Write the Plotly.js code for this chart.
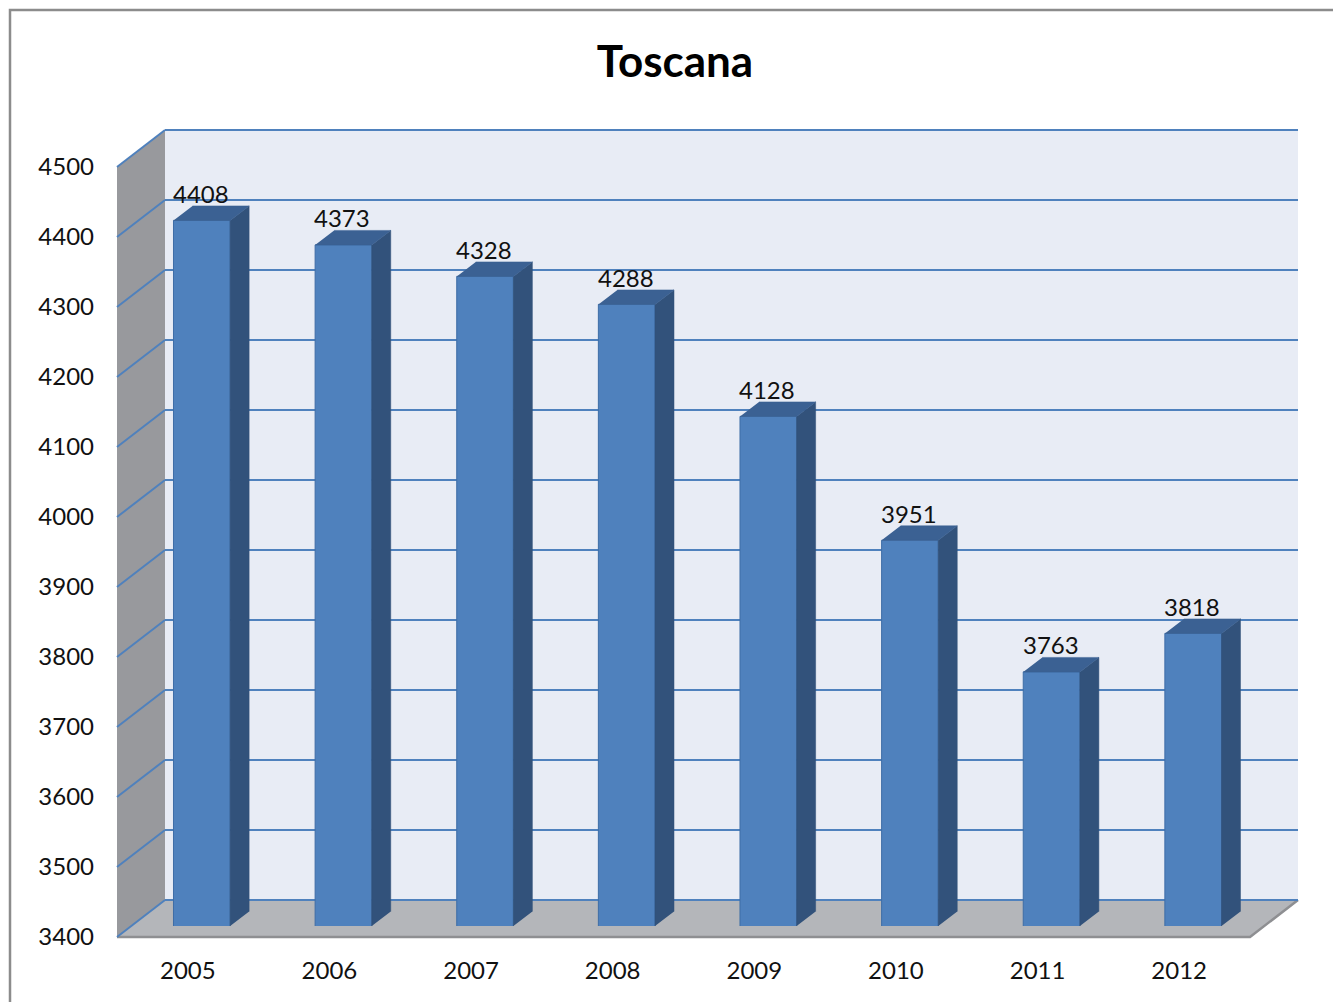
<!DOCTYPE html>
<html>
<head>
<meta charset="utf-8">
<script src="https://cdn.plot.ly/plotly-3.0.1.min.js"></script>
<style>
  html, body { margin: 0; padding: 0; background: #fff; }
  #chart { width: 1333px; height: 1002px; }
</style>
</head>
<body>
<div id="chart"></div>
<script>
// data
const years = ['2005', '2006', '2007', '2008', '2009', '2010', '2011', '2012'];
const values = [4408, 4373, 4328, 4288, 4128, 3951, 3763, 3818];
const yTicks = [3400, 3500, 3600, 3700, 3800, 3900, 4000, 4100, 4200, 4300, 4400, 4500];

const W = 1333, H = 1002;
const Y_MIN = 3400, Y_MAX = 4500;
const px = x => x / W;
const py = y => 1 - y / H;

// pixel planes of the fake 3D box: front edge, bar front faces, back wall
const FRONT = { x0: 117, x1: 1250, y0: 937, y1: 167 };
const BARS = { x0: 131, x1: 1264, y0: 926, y1: 156 };
const BACK = { x0: 165, x1: 1298, y0: 900, y1: 130 };
const yOn = (plane, v) => plane.y0 - (v - Y_MIN) / (Y_MAX - Y_MIN) * (plane.y0 - plane.y1);

const FONT = 'Lato, "Open Sans", sans-serif';
const BLUE = '#4F81BD';
const SIDE = '#32527B';
const TOP = '#3B6193';
const GRID = '#4F81BD';

// bar depth, turned into axis units of the bar plane
const barW = 0.4;
const slotPx = (BARS.x1 - BARS.x0) / years.length;
const depthX = 19 / slotPx;
const depthY = 14.5 / ((BARS.y0 - BARS.y1) / (Y_MAX - Y_MIN));
const idx = years.map((_, i) => i);

const sideX = [], sideY = [], topX = [], topY = [];
values.forEach((v, i) => {
  const r = i + barW / 2, l = i - barW / 2;
  sideX.push(r, r, r + depthX, r + depthX, null);
  sideY.push(Y_MIN, v, v + depthY, Y_MIN + depthY, null);
  topX.push(l, r, r + depthX, l + depthX, null);
  topY.push(v, v, v + depthY, v + depthY, null);
});

const traces = [
  // back wall subplot needs a trace so its grid is drawn
  { x: [0.5], y: [Y_MIN], xaxis: 'x', yaxis: 'y', type: 'scatter', mode: 'markers',
    marker: { opacity: 0 }, hoverinfo: 'skip', showlegend: false },
  { x: idx, y: values, xaxis: 'x2', yaxis: 'y2', type: 'bar', width: barW,
    marker: { color: BLUE, line: { color: '#3E6DA6', width: 1 } },
    hoverinfo: 'skip', showlegend: false },
  { x: sideX, y: sideY, xaxis: 'x2', yaxis: 'y2', type: 'scatter', mode: 'lines',
    fill: 'toself', fillcolor: SIDE, line: { color: SIDE, width: 0.5 },
    hoverinfo: 'skip', showlegend: false },
  { x: topX, y: topY, xaxis: 'x2', yaxis: 'y2', type: 'scatter', mode: 'lines',
    fill: 'toself', fillcolor: TOP, line: { color: TOP, width: 0.5 },
    hoverinfo: 'skip', showlegend: false },
  // front axis carries the tick labels
  { x: idx, y: values, xaxis: 'x3', yaxis: 'y3', type: 'scatter', mode: 'markers',
    marker: { opacity: 0 }, hoverinfo: 'skip', showlegend: false },
];

const shapes = [
  // back wall
  { type: 'rect', xref: 'paper', yref: 'paper', layer: 'below',
    x0: px(BACK.x0), x1: px(BACK.x1), y0: py(BACK.y0), y1: py(BACK.y1),
    fillcolor: '#E8ECF5', line: { width: 0 } },
  // left wall
  { type: 'path', xref: 'paper', yref: 'paper', layer: 'below',
    path: `M${px(FRONT.x0)},${py(FRONT.y1)} L${px(BACK.x0)},${py(BACK.y1)} L${px(BACK.x0)},${py(BACK.y0)} L${px(FRONT.x0)},${py(FRONT.y0)} Z`,
    fillcolor: '#98999D', line: { width: 0 } },
  // floor
  { type: 'path', xref: 'paper', yref: 'paper', layer: 'below',
    path: `M${px(FRONT.x0)},${py(FRONT.y0)} L${px(FRONT.x1)},${py(FRONT.y0)} L${px(BACK.x1)},${py(BACK.y0)} L${px(BACK.x0)},${py(BACK.y0)} Z`,
    fillcolor: '#B4B6BA', line: { width: 0 } },
  // floor front and right edges
  { type: 'path', xref: 'paper', yref: 'paper', layer: 'below',
    path: `M${px(FRONT.x0)},${py(FRONT.y0)} L${px(FRONT.x1)},${py(FRONT.y0)} L${px(BACK.x1)},${py(BACK.y0)}`,
    line: { color: '#8E8F92', width: 2.5 } },
  // outer chart border
  { type: 'rect', xref: 'paper', yref: 'paper', layer: 'above',
    x0: px(10), x1: px(1345), y0: py(10), y1: py(1015),
    line: { color: '#8C8C8C', width: 2.5 } },
];

// diagonal gridlines across the left wall
yTicks.forEach(v => {
  shapes.push({ type: 'line', xref: 'paper', yref: 'paper', layer: 'below',
    x0: px(FRONT.x0), y0: py(yOn(FRONT, v)), x1: px(BACK.x0), y1: py(yOn(BACK, v)),
    line: { color: GRID, width: 2 } });
});
// back wall top edge and floor back edge
[Y_MIN, Y_MAX].forEach(v => {
  shapes.push({ type: 'line', xref: 'paper', yref: 'paper', layer: 'below',
    x0: px(BACK.x0), y0: py(yOn(BACK, v)), x1: px(BACK.x1), y1: py(yOn(BACK, v)),
    line: { color: GRID, width: 2 } });
});

const annotations = values.map((v, i) => ({
  x: i, y: v, xref: 'x2', yref: 'y2', text: String(v), showarrow: false,
  yanchor: 'middle', yshift: 27, xshift: -1,
  font: { family: FONT, size: 24, color: '#111' },
}));

const hidden = { showgrid: false, zeroline: false, showticklabels: false, showline: false, ticks: '' };

const layout = {
  width: W, height: H,
  margin: { l: 0, r: 0, t: 0, b: 0 },
  paper_bgcolor: '#fff',
  plot_bgcolor: 'rgba(0,0,0,0)',
  showlegend: false,
  font: { family: FONT, color: '#111' },
  title: {
    text: '<b>Toscana</b>', x: 675 / W, xanchor: 'center', y: py(62), yanchor: 'middle',
    xref: 'paper', yref: 'paper', font: { family: FONT, size: 44, color: '#000' },
  },
  xaxis: { ...hidden, domain: [px(BACK.x0), px(BACK.x1)], range: [0, 1], anchor: 'y', fixedrange: true },
  yaxis: { ...hidden, domain: [py(BACK.y0), py(BACK.y1)], range: [Y_MIN, Y_MAX], anchor: 'x',
    showgrid: true, gridcolor: GRID, gridwidth: 2, tickvals: yTicks, fixedrange: true },
  xaxis2: { ...hidden, domain: [px(BARS.x0), px(BARS.x1)], range: [-0.5, years.length - 0.5], anchor: 'y2', fixedrange: true },
  yaxis2: { ...hidden, domain: [py(BARS.y0), py(BARS.y1)], range: [Y_MIN, Y_MAX], anchor: 'x2', fixedrange: true },
  xaxis3: { ...hidden, domain: [px(FRONT.x0), px(FRONT.x1)], range: [-0.5, years.length - 0.5], anchor: 'y3',
    showticklabels: true, tickvals: idx, ticktext: years, ticklabelstandoff: 17,
    tickfont: { family: FONT, size: 24, color: '#111' }, fixedrange: true },
  yaxis3: { ...hidden, domain: [py(FRONT.y0), py(FRONT.y1)], range: [Y_MIN, Y_MAX], anchor: 'x3',
    showticklabels: true, tickvals: yTicks, ticklabelstandoff: 22,
    tickfont: { family: FONT, size: 24, color: '#111' }, fixedrange: true },
  shapes: shapes,
  annotations: annotations,
  bargap: 0.6,
};

Plotly.newPlot('chart', traces, layout, { displayModeBar: false, staticPlot: true });
</script>
</body>
</html>
